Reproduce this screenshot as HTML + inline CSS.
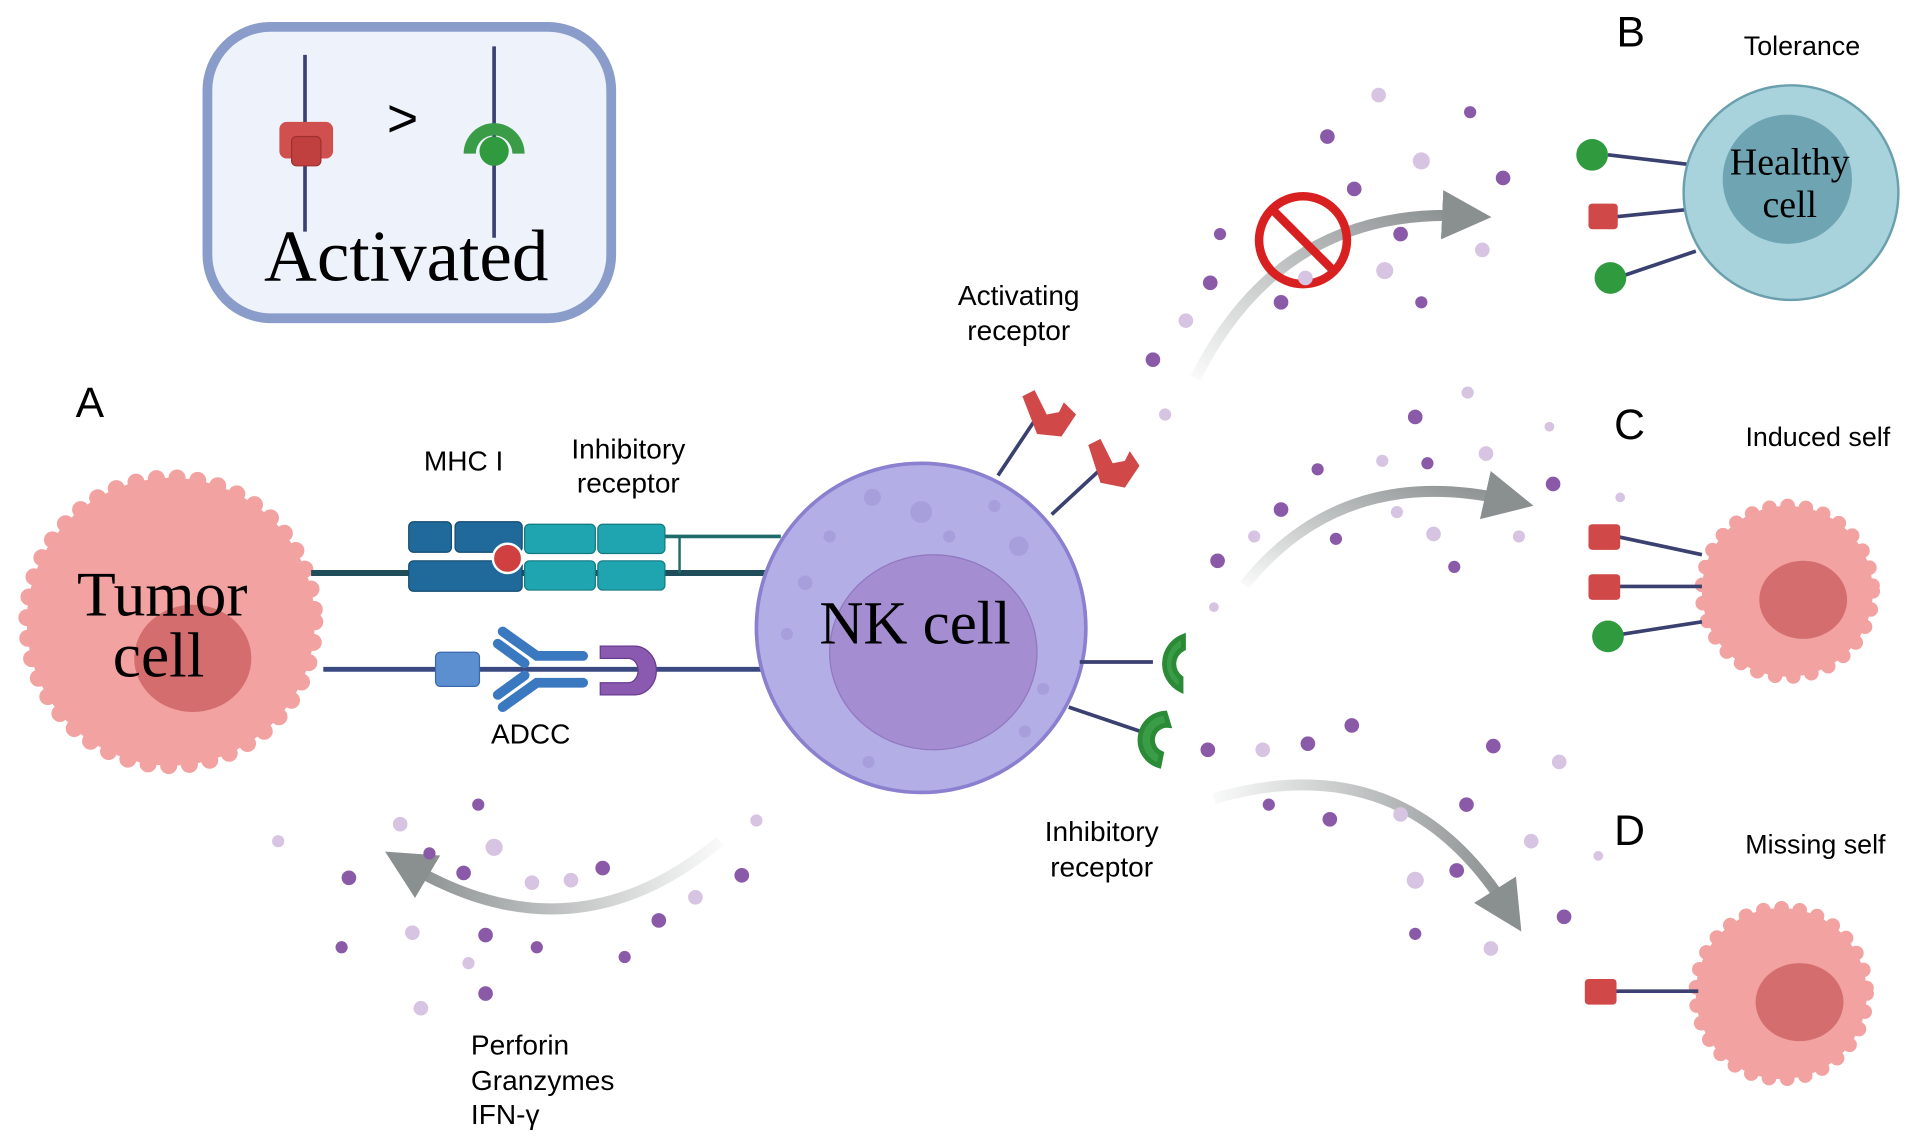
<!DOCTYPE html>
<html><head><meta charset="utf-8"><style>html,body{margin:0;padding:0;background:#fff}svg{display:block}</style></head>
<body>
<svg width="1913" height="1146" viewBox="0 0 1568 940" preserveAspectRatio="none" xmlns="http://www.w3.org/2000/svg" font-family="Liberation Sans, sans-serif">
<defs>
<marker id="ah" markerWidth="4.5" markerHeight="4.5" refX="2" refY="2.25" orient="auto" markerUnits="strokeWidth"><path d="M0,0 L4.5,2.25 L0,4.5 Z" fill="#8a8f8f"/></marker>
<linearGradient id="gB" x1="0" y1="1" x2="1" y2="0"><stop offset="0" stop-color="#8a8f8f" stop-opacity="0.05"/><stop offset="1" stop-color="#8a8f8f"/></linearGradient>
<linearGradient id="gL" x1="1" y1="0" x2="0" y2="0"><stop offset="0" stop-color="#8a8f8f" stop-opacity="0.05"/><stop offset="1" stop-color="#8a8f8f"/></linearGradient>
<linearGradient id="gR" x1="0" y1="0" x2="1" y2="0"><stop offset="0" stop-color="#8a8f8f" stop-opacity="0.05"/><stop offset="1" stop-color="#8a8f8f"/></linearGradient>
</defs>
<!-- legend -->
<rect x="170" y="22" width="331" height="239" rx="52" fill="#eef2fb" stroke="#8a9cc9" stroke-width="8"/>
<line x1="250" y1="45" x2="250" y2="190" stroke="#3a4070" stroke-width="3"/>
<rect x="229" y="100" width="44" height="30" rx="6" fill="#d05050"/>
<rect x="239" y="112" width="24" height="24" rx="4" fill="#c04040" stroke="#a03030"/>
<text x="330" y="112" font-size="44" text-anchor="middle" font-family="Liberation Sans">&gt;</text>
<line x1="405" y1="38" x2="405" y2="195" stroke="#3a4070" stroke-width="3"/>
<path d="M380,126 A25,25 0 0 1 430,126 L420,126 A15,15 0 0 0 390,126 Z" fill="#3a9c46"/>
<circle cx="405" cy="124" r="12" fill="#2f9a3e"/>
<text x="333" y="230" font-size="60" text-anchor="middle" font-family="Liberation Serif, serif">Activated</text>
<!-- tumor cell -->
<circle cx="140" cy="510" r="118" fill="#f2a2a0" stroke="#f2a2a0" stroke-width="14" stroke-dasharray="0 17" stroke-linecap="round"/>
<circle cx="140" cy="510" r="117" fill="#f2a2a0"/>
<ellipse cx="158" cy="540" rx="48" ry="44" fill="#d46e6e"/>
<text x="133" y="505" font-size="52" text-anchor="middle" font-family="Liberation Serif, serif">Tumor</text>
<text x="130" y="555" font-size="52" text-anchor="middle" font-family="Liberation Serif, serif">cell</text>
<text x="62" y="342" font-size="35">A</text>
<!-- connections -->
<line x1="255" y1="470" x2="640" y2="470" stroke="#1f4e5a" stroke-width="5"/>
<line x1="545" y1="440" x2="640" y2="440" stroke="#1f6a6a" stroke-width="3"/>
<line x1="557" y1="440" x2="557" y2="470" stroke="#1f6a6a" stroke-width="2"/>
<line x1="265" y1="549" x2="625" y2="549" stroke="#3a4a80" stroke-width="4"/>
<rect x="335" y="428" width="35" height="25" rx="4" fill="#1f6a9a" stroke="#154a70"/>
<rect x="373" y="428" width="55" height="25" rx="4" fill="#1f6a9a" stroke="#154a70"/>
<rect x="335" y="460" width="93" height="25" rx="4" fill="#1f6a9a" stroke="#154a70"/>
<rect x="430" y="430" width="58" height="24" rx="4" fill="#1fa5b0" stroke="#157a80"/>
<rect x="490" y="430" width="55" height="24" rx="4" fill="#1fa5b0" stroke="#157a80"/>
<rect x="430" y="460" width="58" height="24" rx="4" fill="#1fa5b0" stroke="#157a80"/>
<rect x="490" y="460" width="55" height="24" rx="4" fill="#1fa5b0" stroke="#157a80"/>
<circle cx="416" cy="458" r="12" fill="#d04040" stroke="#fff" stroke-width="2"/>
<text x="380" y="386" font-size="23" text-anchor="middle">MHC I</text>
<text x="515" y="376" font-size="23" text-anchor="middle">Inhibitory</text>
<text x="515" y="404" font-size="23" text-anchor="middle">receptor</text>
<rect x="357" y="535" width="36" height="28" rx="4" fill="#5b8fd0" stroke="#3a6ab0"/>
<g stroke="#3a78c0" stroke-width="8" stroke-linecap="round" fill="none">
<path d="M412,518 L440,538 L478,538"/><path d="M412,580 L440,560 L478,560"/>
<path d="M408,528 L430,544"/><path d="M408,570 L430,554"/>
</g>
<path d="M492,530 L520,530 A18,20 0 0 1 520,570 L492,570 L492,560 L515,560 A8,10 0 0 0 515,540 L492,540 Z" fill="#8a5ab0" stroke="#6a3a90"/>
<text x="435" y="610" font-size="23" text-anchor="middle">ADCC</text>
<!-- NK cell -->
<circle cx="755" cy="515" r="135" fill="#b3aee6" stroke="#8a80cf" stroke-width="3"/>
<ellipse cx="765" cy="535" rx="85" ry="80" fill="#a48dd0" stroke="#9078c0"/>
<g fill="#a79fdc"><circle cx="715" cy="408" r="7"/><circle cx="755" cy="420" r="9"/><circle cx="835" cy="448" r="8"/><circle cx="660" cy="478" r="6"/><circle cx="680" cy="440" r="5"/><circle cx="778" cy="440" r="5"/><circle cx="815" cy="415" r="5"/><circle cx="712" cy="625" r="5"/><circle cx="840" cy="600" r="5"/><circle cx="855" cy="565" r="5"/><circle cx="645" cy="520" r="5"/></g>
<text x="750" y="528" font-size="50" text-anchor="middle" font-family="Liberation Serif, serif">NK cell</text>
<!-- activating receptors -->
<line x1="818" y1="390" x2="848" y2="345" stroke="#3a4070" stroke-width="3"/>
<line x1="862" y1="422" x2="902" y2="385" stroke="#3a4070" stroke-width="3"/>
<path d="M838,325 L848,320 L858,340 L868,338 L872,330 L882,340 L870,358 L850,356 Z" fill="#d04848"/>
<path d="M892,365 L902,360 L912,380 L922,378 L926,370 L934,382 L922,400 L902,396 Z" fill="#d04848"/>
<text x="835" y="250" font-size="23" text-anchor="middle">Activating</text>
<text x="835" y="279" font-size="23" text-anchor="middle">receptor</text>
<!-- inhibitory receptors -->
<line x1="885" y1="543" x2="945" y2="543" stroke="#3a4070" stroke-width="3"/>
<line x1="876" y1="580" x2="935" y2="600" stroke="#3a4070" stroke-width="3"/>
<path d="M970,522 A24,24 0 0 0 968,566 L968,556 A14,14 0 0 1 970,532 Z" fill="#3a9c46" stroke="#2a8a36" stroke-width="4"/>
<path d="M955,585 A22,22 0 0 0 950,628 L952,618 A12,12 0 0 1 958,595 Z" fill="#3a9c46" stroke="#2a8a36" stroke-width="4"/>
<text x="903" y="690" font-size="23" text-anchor="middle">Inhibitory</text>
<text x="903" y="719" font-size="23" text-anchor="middle">receptor</text>
<!-- arrows -->
<path d="M980,310 Q1050,170 1200,177" fill="none" stroke="url(#gB)" stroke-width="9" marker-end="url(#ah)"/>
<path d="M1020,480 Q1100,380 1235,410" fill="none" stroke="url(#gB)" stroke-width="9" marker-end="url(#ah)"/>
<path d="M995,655 Q1150,610 1235,745" fill="none" stroke="url(#gR)" stroke-width="9" marker-end="url(#ah)"/>
<path d="M590,690 Q470,790 335,710" fill="none" stroke="url(#gL)" stroke-width="9" marker-end="url(#ah)"/>
<circle cx="1068" cy="197" r="36" fill="none" stroke="#d82020" stroke-width="7"/>
<line x1="1043" y1="172" x2="1093" y2="222" stroke="#d82020" stroke-width="7"/>
<!-- dots -->
<g fill="#8a5aa8">
<circle cx="1088" cy="112" r="6"/><circle cx="1110" cy="155" r="6"/><circle cx="1232" cy="146" r="6"/><circle cx="1000" cy="192" r="5"/><circle cx="992" cy="232" r="6"/><circle cx="1050" cy="248" r="6"/><circle cx="1148" cy="192" r="6"/><circle cx="945" cy="295" r="6"/><circle cx="1165" cy="248" r="5"/><circle cx="1205" cy="92" r="5"/>
<circle cx="1160" cy="342" r="6"/><circle cx="1170" cy="380" r="5"/><circle cx="1050" cy="418" r="6"/><circle cx="998" cy="460" r="6"/><circle cx="1095" cy="442" r="5"/><circle cx="1273" cy="397" r="6"/><circle cx="1192" cy="465" r="5"/><circle cx="1080" cy="385" r="5"/>
<circle cx="990" cy="615" r="6"/><circle cx="1072" cy="610" r="6"/><circle cx="1108" cy="595" r="6"/><circle cx="1090" cy="672" r="6"/><circle cx="1224" cy="612" r="6"/><circle cx="1202" cy="660" r="6"/><circle cx="1194" cy="714" r="6"/><circle cx="1282" cy="752" r="6"/><circle cx="1160" cy="766" r="5"/><circle cx="1040" cy="660" r="5"/>
<circle cx="392" cy="660" r="5"/><circle cx="286" cy="720" r="6"/><circle cx="380" cy="716" r="6"/><circle cx="494" cy="712" r="6"/><circle cx="608" cy="718" r="6"/><circle cx="540" cy="755" r="6"/><circle cx="398" cy="767" r="6"/><circle cx="398" cy="815" r="6"/><circle cx="280" cy="777" r="5"/><circle cx="440" cy="777" r="5"/><circle cx="512" cy="785" r="5"/><circle cx="352" cy="700" r="5"/>
</g>
<g fill="#d6c4e2">
<circle cx="1130" cy="78" r="6"/><circle cx="1165" cy="132" r="7"/><circle cx="1135" cy="222" r="7"/><circle cx="1215" cy="205" r="6"/><circle cx="972" cy="263" r="6"/><circle cx="955" cy="340" r="5"/><circle cx="1070" cy="228" r="6"/>
<circle cx="1203" cy="322" r="5"/><circle cx="1218" cy="372" r="6"/><circle cx="1133" cy="378" r="5"/><circle cx="1028" cy="440" r="5"/><circle cx="1145" cy="420" r="5"/><circle cx="1245" cy="440" r="5"/><circle cx="1175" cy="438" r="6"/><circle cx="1270" cy="350" r="4"/><circle cx="1328" cy="408" r="4"/><circle cx="995" cy="498" r="4"/>
<circle cx="1035" cy="615" r="6"/><circle cx="1148" cy="668" r="6"/><circle cx="1160" cy="722" r="7"/><circle cx="1278" cy="625" r="6"/><circle cx="1255" cy="690" r="6"/><circle cx="1222" cy="778" r="6"/><circle cx="1310" cy="702" r="4"/>
<circle cx="620" cy="673" r="5"/><circle cx="328" cy="676" r="6"/><circle cx="405" cy="695" r="7"/><circle cx="436" cy="724" r="6"/><circle cx="468" cy="722" r="6"/><circle cx="338" cy="765" r="6"/><circle cx="570" cy="736" r="6"/><circle cx="345" cy="827" r="6"/><circle cx="228" cy="690" r="5"/><circle cx="384" cy="790" r="5"/>
</g>
<text x="386" y="865" font-size="23">Perforin</text>
<text x="386" y="894" font-size="23">Granzymes</text>
<text x="386" y="922" font-size="23">IFN-γ</text>
<!-- B healthy -->
<text x="1325" y="38" font-size="35">B</text>
<text x="1477" y="45" font-size="22" text-anchor="middle">Tolerance</text>
<line x1="1318" y1="127" x2="1385" y2="135" stroke="#3a4070" stroke-width="3"/>
<line x1="1322" y1="178" x2="1382" y2="172" stroke="#3a4070" stroke-width="3"/>
<line x1="1325" y1="228" x2="1390" y2="206" stroke="#3a4070" stroke-width="3"/>
<circle cx="1468" cy="158" r="88" fill="#a8d3dd" stroke="#6a9fae" stroke-width="2"/>
<circle cx="1465" cy="147" r="53" fill="#6fa5b3"/>
<text x="1467" y="143" font-size="31" text-anchor="middle" font-family="Liberation Serif, serif">Healthy</text>
<text x="1467" y="178" font-size="31" text-anchor="middle" font-family="Liberation Serif, serif">cell</text>
<circle cx="1305" cy="127" r="13" fill="#2f9a3e"/>
<rect x="1302" y="167" width="24" height="21" rx="3" fill="#d04848"/>
<circle cx="1320" cy="228" r="13" fill="#2f9a3e"/>
<!-- C -->
<text x="1323" y="360" font-size="35">C</text>
<text x="1490" y="366" font-size="22" text-anchor="middle">Induced self</text>
<circle cx="1465" cy="485" r="70" fill="#f2a2a0" stroke="#f2a2a0" stroke-width="12" stroke-dasharray="0 15" stroke-linecap="round"/>
<circle cx="1465" cy="485" r="70" fill="#f2a2a0"/>
<ellipse cx="1478" cy="492" rx="36" ry="32" fill="#d46e6e"/>
<line x1="1325" y1="440" x2="1395" y2="455" stroke="#3a4070" stroke-width="3"/>
<line x1="1325" y1="481" x2="1395" y2="481" stroke="#3a4070" stroke-width="3"/>
<line x1="1318" y1="522" x2="1395" y2="510" stroke="#3a4070" stroke-width="3"/>
<rect x="1302" y="430" width="26" height="21" rx="3" fill="#d04848"/>
<rect x="1302" y="471" width="26" height="21" rx="3" fill="#d04848"/>
<circle cx="1318" cy="522" r="13" fill="#2f9a3e"/>
<!-- D -->
<text x="1323" y="693" font-size="35">D</text>
<text x="1488" y="700" font-size="22" text-anchor="middle">Missing self</text>
<circle cx="1460" cy="815" r="70" fill="#f2a2a0" stroke="#f2a2a0" stroke-width="12" stroke-dasharray="0 15" stroke-linecap="round"/>
<circle cx="1460" cy="815" r="70" fill="#f2a2a0"/>
<ellipse cx="1475" cy="822" rx="36" ry="32" fill="#d46e6e"/>
<line x1="1320" y1="813" x2="1392" y2="813" stroke="#3a4070" stroke-width="3"/>
<rect x="1299" y="803" width="26" height="21" rx="3" fill="#d04848"/>
</svg>
</body></html>
